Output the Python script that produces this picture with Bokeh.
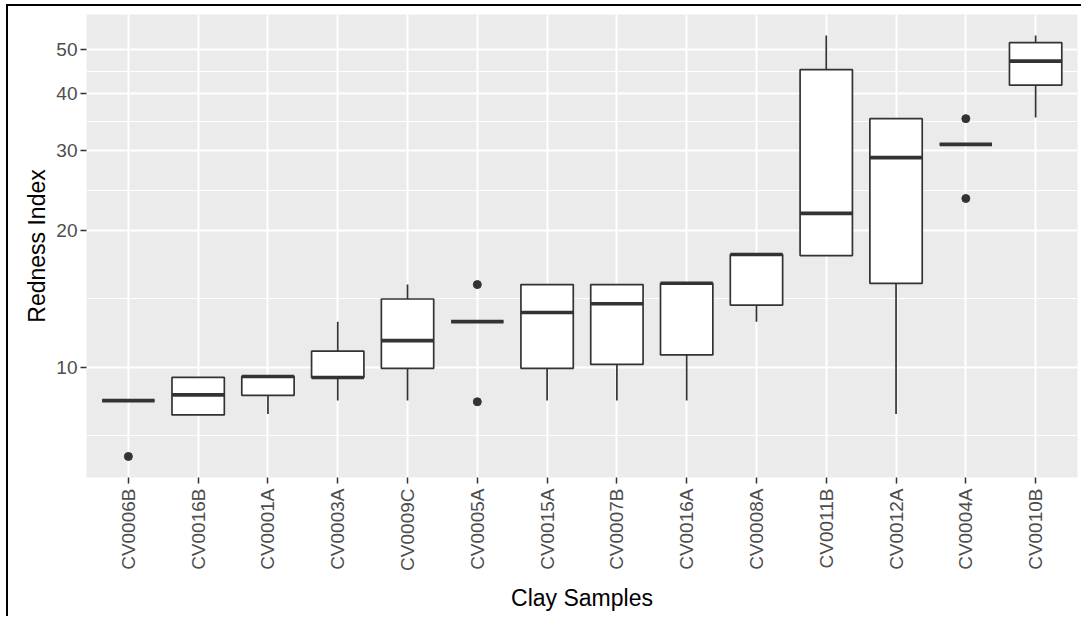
import numpy as np
from bokeh.plotting import figure
from bokeh.models import FixedTicker, NumeralTickFormatter, Range1d
from bokeh.embed import file_html
from bokeh.resources import INLINE

# Redness index per clay sample: box-plot statistics
samples = ["CV0006B", "CV0016B", "CV0001A", "CV0003A", "CV0009C", "CV0005A", "CV0015A",
           "CV0007B", "CV0016A", "CV0008A", "CV0011B", "CV0012A", "CV0004A", "CV0010B"]
whisker_low = [8.45, 7.86, 7.90, 8.45, 8.45, 12.6, 8.45, 8.45, 8.45, 12.6, 17.6, 7.90, 30.9, 35.4]
q1 = [8.45, 7.86, 8.68, 9.50, 9.95, 12.6, 9.95, 10.15, 10.65, 13.7, 17.6, 15.3, 30.9, 41.7]
median = [8.45, 8.70, 9.55, 9.50, 11.45, 12.6, 13.2, 13.8, 15.3, 17.7, 21.8, 28.9, 30.9, 47.1]
q3 = [8.45, 9.50, 9.55, 10.85, 14.13, 12.6, 15.2, 15.2, 15.3, 17.7, 45.1, 35.2, 30.9, 51.7]
whisker_high = [8.45, 9.50, 9.55, 12.6, 15.2, 12.6, 15.2, 15.2, 15.3, 17.7, 53.6, 35.2, 30.9, 53.6]

outlier_sample = ["CV0006B", "CV0005A", "CV0005A", "CV0004A", "CV0004A"]
outlier_value = [6.37, 15.2, 8.4, 35.2, 23.5]

y_ticks = [10, 20, 30, 40, 50]

FONT = "Liberation Sans"
INK = "#333333"
TICK_TEXT = "#4D4D4D"
BOX_W = 0.75

pos = np.arange(1, len(samples) + 1)
index_of = {s: i + 1 for i, s in enumerate(samples)}
out_x = [index_of[s] for s in outlier_sample]

# log-scale limits with a 5% expansion, as ggplot does
all_vals = whisker_low + whisker_high + outlier_value
lo, hi = np.log10(min(all_vals)), np.log10(max(all_vals))
pad = 0.05 * (hi - lo)
y_range = Range1d(10 ** (lo - pad), 10 ** (hi + pad))

# minor grid lines sit halfway (in log space) between the major breaks
below = 10 ** (2 * np.log10(y_ticks[0]) - np.log10(y_ticks[1]))
ext = [below] + y_ticks
minor = [float(np.sqrt(a * b)) for a, b in zip(ext[:-1], ext[1:])]

p = figure(width=1075, height=612, y_axis_type="log",
           x_range=Range1d(0.4, len(samples) + 0.6), y_range=y_range,
           output_backend="svg", toolbar_location=None,
           min_border_left=78, min_border_right=6, min_border_top=8, min_border_bottom=141,
           background_fill_color="#EBEBEB", border_fill_color="white",
           styles={"margin-left": "6px", "margin-top": "4px",
                   "border-left": "2px solid black", "border-top": "2px solid black"})
p.outline_line_color = None

# axes
p.xaxis.ticker = FixedTicker(ticks=list(pos))
p.xaxis.major_label_overrides = {int(i): s for i, s in zip(pos, samples)}
p.xaxis.major_label_orientation = np.pi / 2
p.yaxis.ticker = FixedTicker(ticks=y_ticks, minor_ticks=minor)
p.yaxis.formatter = NumeralTickFormatter(format="0")

for ax in (p.xaxis, p.yaxis):
    ax.axis_line_color = None
    ax.major_tick_line_color = INK
    ax.major_tick_line_width = 1.5
    ax.major_tick_in = 0
    ax.major_tick_out = 6
    ax.minor_tick_line_color = None
    ax.major_label_text_font = FONT
    ax.major_label_text_font_size = "19px"
    ax.major_label_text_color = TICK_TEXT
    ax.axis_label_text_font = FONT
    ax.axis_label_text_font_size = "23px"
    ax.axis_label_text_font_style = "normal"
    ax.axis_label_text_color = "black"
p.xaxis.axis_label = "Clay Samples"
p.yaxis.axis_label = "Redness Index"
p.xaxis.major_label_standoff = 5
p.yaxis.major_label_standoff = 3
p.xaxis.axis_label_standoff = 11
p.yaxis.axis_label_standoff = 3

# grid
p.xgrid.ticker = FixedTicker(ticks=list(pos))
p.xgrid.grid_line_color = "white"
p.xgrid.grid_line_width = 2
p.ygrid.ticker = FixedTicker(ticks=y_ticks, minor_ticks=minor)
p.ygrid.grid_line_color = "white"
p.ygrid.grid_line_width = 2
p.ygrid.minor_grid_line_color = "white"
p.ygrid.minor_grid_line_width = 1

# outliers
p.scatter(out_x, outlier_value, size=8, color=INK)

# whiskers
p.segment(x0=pos, x1=pos, y0=q3, y1=whisker_high, line_color=INK, line_width=1.7)
p.segment(x0=pos, x1=pos, y0=q1, y1=whisker_low, line_color=INK, line_width=1.7)

# boxes
p.vbar(x=pos, width=BOX_W, bottom=q1, top=q3, fill_color="white",
       line_color=INK, line_width=1.7)

# medians
p.segment(x0=pos - BOX_W / 2, x1=pos + BOX_W / 2, y0=median, y1=median,
          line_color=INK, line_width=3.6)

open("out.html", "w").write(file_html(p, INLINE))
